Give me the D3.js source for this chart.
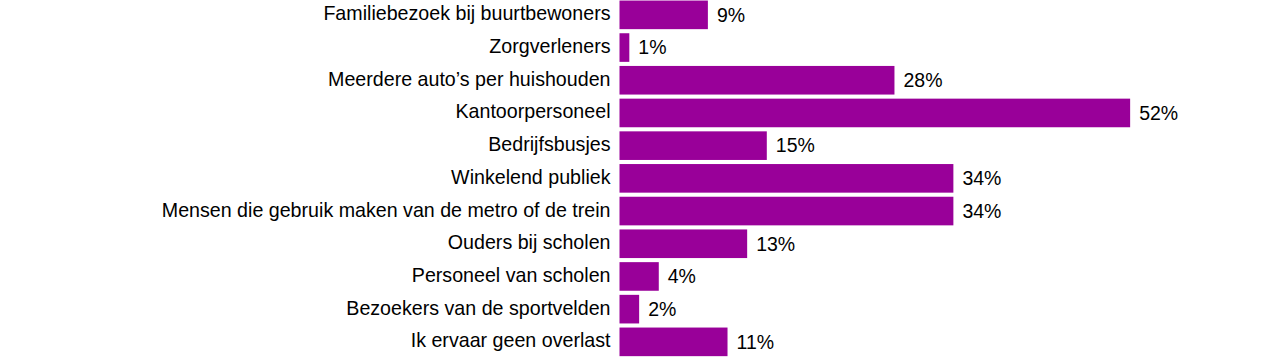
<!DOCTYPE html>
<html>
<head>
<meta charset="utf-8">
<script src="https://cdn.jsdelivr.net/npm/d3@7"></script>
<style>
  html, body { margin: 0; padding: 0; background: #fff; }
  svg { display: block; }
  text { font-family: "Liberation Sans", Arial, Helvetica, sans-serif; font-size: 19.5px; fill: #000; }
  text.cat { font-size: 19.65px; }
</style>
</head>
<body>
<svg id="chart" width="1282" height="358"></svg>
<script>
const categories = [
  "Familiebezoek bij buurtbewoners",
  "Zorgverleners",
  "Meerdere auto\u2019s per huishouden",
  "Kantoorpersoneel",
  "Bedrijfsbusjes",
  "Winkelend publiek",
  "Mensen die gebruik maken van de metro of de trein",
  "Ouders bij scholen",
  "Personeel van scholen",
  "Bezoekers van de sportvelden",
  "Ik ervaar geen overlast"
];
const values = [9, 1, 28, 52, 15, 34, 34, 13, 4, 2, 11];

const svg = d3.select("#chart");
const x0 = 619.5;
const x = d3.scaleLinear().domain([0, 100]).range([x0, x0 + 982]);
const y = d3.scaleBand().domain(categories).range([-1.5, 358.2]).paddingInner(0.125).paddingOuter(0.0625);

const rows = categories.map((c, i) => ({ c, v: values[i] }));

svg.selectAll("rect.bar").data(rows).join("rect")
  .attr("class", "bar")
  .attr("x", x(0))
  .attr("y", d => y(d.c))
  .attr("width", d => x(d.v) - x(0))
  .attr("height", y.bandwidth())
  .attr("fill", "#990099");

svg.selectAll("text.cat").data(rows).join("text")
  .attr("class", "cat")
  .attr("x", x(0) - 9)
  .attr("y", d => y(d.c) + y.bandwidth() / 2)
  .attr("dy", "0.28em")
  .attr("text-anchor", "end")
  .text(d => d.c);

svg.selectAll("text.val").data(rows).join("text")
  .attr("class", "val")
  .attr("x", d => x(d.v) + 9)
  .attr("y", d => y(d.c) + y.bandwidth() / 2)
  .attr("dy", "0.35em")
  .text(d => d.v + "%");
</script>
</body>
</html>
